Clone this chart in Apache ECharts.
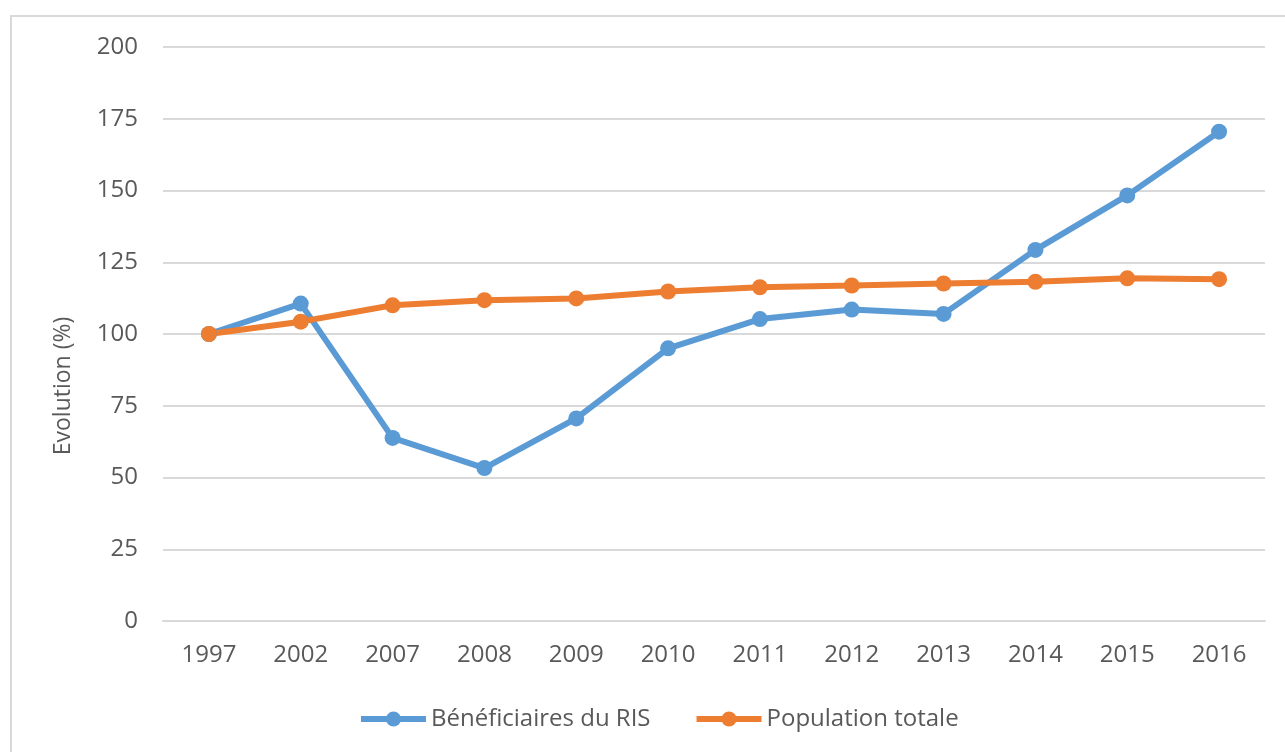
<!DOCTYPE html>
<html>
<head>
<meta charset="utf-8">
<script src="https://cdn.jsdelivr.net/npm/echarts@6/dist/echarts.min.js"></script>
<style>
  html, body { margin: 0; padding: 0; background: #ffffff; }
  #chart { width: 1285px; height: 752px; }
</style>
</head>
<body>
<div id="chart"></div>
<script>
// Years on the horizontal axis
const years = ['1997', '2002', '2007', '2008', '2009', '2010', '2011', '2012', '2013', '2014', '2015', '2016'];
// Index 1997 = 100
const risBeneficiaries = [100, 110.6, 63.8, 53.3, 70.6, 95.0, 105.2, 108.5, 107.0, 129.3, 148.3, 170.5];
const totalPopulation = [100, 104.3, 110.0, 111.8, 112.4, 114.8, 116.3, 116.9, 117.6, 118.2, 119.4, 119.1];
const yTicks = [0, 25, 50, 75, 100, 125, 150, 175, 200];

const FONT = '"Open Sans", "Liberation Sans", sans-serif';
const TEXT = '#595959';

const chart = echarts.init(document.getElementById('chart'));
chart.setOption({
  animation: false,
  backgroundColor: '#ffffff',
  textStyle: { fontFamily: FONT },
  graphic: [{
    type: 'rect',
    silent: true,
    shape: { x: 11, y: 16, width: 1400, height: 800 },
    style: { fill: 'none', stroke: '#d9d9d9', lineWidth: 2 }
  }],
  grid: { left: 163, right: 20, top: 47, bottom: 131 },
  legend: {
    top: 702,
    left: 353,
    itemWidth: 65,
    itemHeight: 19,
    itemGap: 43,
    lineStyle: { width: 6 },
    textStyle: { color: TEXT, fontSize: 24, fontFamily: FONT },
    data: ['Bénéficiaires du RIS', 'Population totale']
  },
  xAxis: {
    type: 'category',
    data: years,
    boundaryGap: true,
    axisLine: { show: true, lineStyle: { color: '#d9d9d9', width: 2 } },
    axisTick: { show: false },
    axisLabel: { color: TEXT, fontSize: 24, fontFamily: FONT, margin: 22 }
  },
  yAxis: {
    type: 'value',
    min: yTicks[0],
    max: yTicks[yTicks.length - 1],
    interval: 25,
    name: 'Evolution (%)',
    nameLocation: 'middle',
    nameGap: 88,
    nameTextStyle: { color: TEXT, fontSize: 23, fontFamily: FONT, padding: [0, 0, 0, -104] },
    axisLine: { show: false },
    axisTick: { show: false },
    axisLabel: { color: TEXT, fontSize: 24, fontFamily: FONT, margin: 25 },
    splitLine: { lineStyle: { color: '#d9d9d9', width: 2 } }
  },
  series: [
    {
      name: 'Bénéficiaires du RIS',
      type: 'line',
      data: risBeneficiaries,
      color: '#5b9bd5',
      symbol: 'circle',
      symbolSize: 16,
      lineStyle: { width: 6, color: '#5b9bd5' },
      itemStyle: { color: '#5b9bd5' }
    },
    {
      name: 'Population totale',
      type: 'line',
      data: totalPopulation,
      color: '#ed7d31',
      symbol: 'circle',
      symbolSize: 16,
      lineStyle: { width: 6, color: '#ed7d31' },
      itemStyle: { color: '#ed7d31' }
    }
  ]
});
</script>
</body>
</html>
